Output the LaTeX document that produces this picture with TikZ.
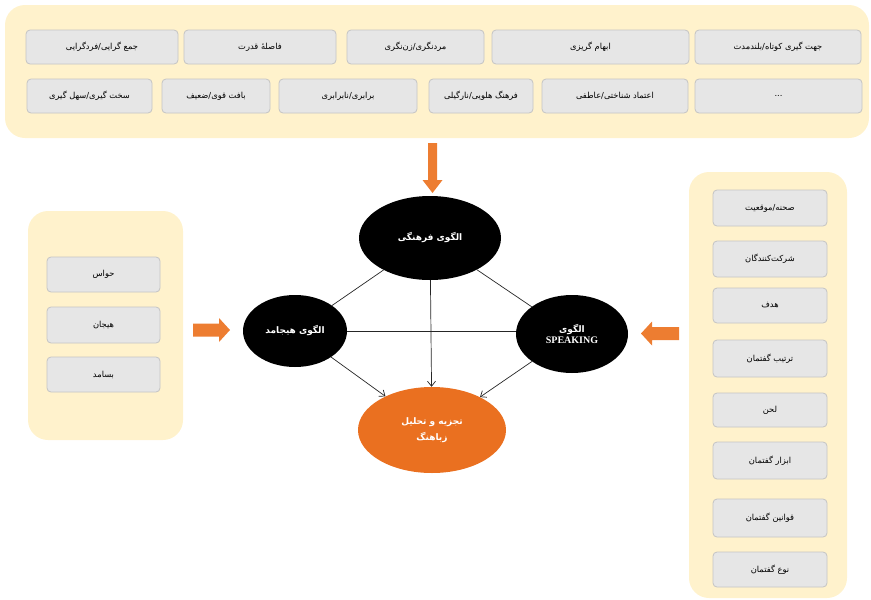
\documentclass[tikz,border=0pt]{standalone}
\usepackage{fontspec}
\setmainfont{DejaVu Sans}
\newfontfamily\fa[Script=Arabic]{DejaVu Sans}
\newfontfamily\latser{Liberation Serif}
\TeXXeTstate=1
\usetikzlibrary{shapes.geometric,arrows.meta}
\definecolor{panelyellow}{HTML}{FFF2CC}
\definecolor{itemgray}{HTML}{E6E6E6}
\definecolor{itemborder}{HTML}{C4C4C4}
\definecolor{arroworange}{HTML}{ED7D31}
\definecolor{ellorange}{HTML}{EA7020}
\definecolor{linegray}{HTML}{262626}
\newcommand\rl[1]{\beginR #1\endR}
\tikzset{
  panel/.style={fill=panelyellow, draw=none, rounded corners=20pt},
  item/.style={draw=itemborder, fill=itemgray, rounded corners=4pt, line width=0.8pt,
    inner sep=0pt, font=\fa\fontsize{8.3}{10}\selectfont, text=black},
  model/.style={ellipse, fill=black, inner sep=0pt, text=white,
    font=\fa\bfseries\fontsize{9}{14}\selectfont, align=center},
  result/.style={ellipse, fill=ellorange, inner sep=0pt, text=white,
    font=\fa\bfseries\fontsize{9}{14}\selectfont, align=center},
  link/.style={draw=linegray, line width=0.7pt},
  flow/.style={link, -{Straight Barb[length=5pt,width=8pt]}},
  bigarrow/.style={fill=arroworange, draw=none}
}
\begin{document}
\begin{tikzpicture}[x=1pt, y=-1pt]
\useasboundingbox (0,0) rectangle (871,600);

% panels
\fill[panel] (5,5) rectangle (869,138);
\fill[panel] (28,211) rectangle (183,440);
\fill[panel] (689,172) rectangle (847,598);

% top row 1
\node[item, minimum width=152pt, minimum height=34pt] (t11) at (102,47) {\rl{جمع گرایی/فردگرایی}};
\node[item, minimum width=152pt, minimum height=34pt] (t12) at (260,47) {\rl{فاصلهٔ قدرت}};
\node[item, minimum width=137pt, minimum height=34pt] (t13) at (415.5,47) {\rl{مردنگری/زن‌نگری}};
\node[item, minimum width=197pt, minimum height=34pt] (t14) at (590.5,47) {\rl{ابهام گریزی}};
\node[item, minimum width=166pt, minimum height=34pt] (t15) at (778,47) {\rl{جهت گیری کوتاه/بلندمدت}};
% top row 2
\node[item, minimum width=125pt, minimum height=34pt] (t21) at (89.5,96) {\rl{سخت گیری/سهل گیری}};
\node[item, minimum width=108pt, minimum height=34pt] (t22) at (216,96) {\rl{بافت قوی/ضعیف}};
\node[item, minimum width=138pt, minimum height=34pt] (t23) at (348,96) {\rl{برابری/نابرابری}};
\node[item, minimum width=104pt, minimum height=34pt] (t24) at (481,96) {\rl{فرهنگ هلویی/نارگیلی}};
\node[item, minimum width=146pt, minimum height=34pt] (t25) at (615,96) {\rl{اعتماد شناختی/عاطفی}};
\node[item, minimum width=167pt, minimum height=34pt] (t26) at (778.5,96) {...};

% left panel
\node[item, minimum width=113pt, minimum height=35pt] (l1) at (103.5,274.5) {\rl{حواس}};
\node[item, minimum width=113pt, minimum height=36pt] (l2) at (103.5,325) {\rl{هیجان}};
\node[item, minimum width=113pt, minimum height=35pt] (l3) at (103.5,374.5) {\rl{بسامد}};

% right panel
\node[item, minimum width=114pt, minimum height=36pt] (r1) at (770,208) {\rl{صحنه/موقعیت}};
\node[item, minimum width=114pt, minimum height=36pt] (r2) at (770,259) {\rl{شرکت‌کنندگان}};
\node[item, minimum width=114pt, minimum height=35pt] (r3) at (770,305.5) {\rl{هدف}};
\node[item, minimum width=114pt, minimum height=37pt] (r4) at (770,358.5) {\rl{ترتیب گفتمان}};
\node[item, minimum width=114pt, minimum height=34pt] (r5) at (770,410) {\rl{لحن}};
\node[item, minimum width=114pt, minimum height=37pt] (r6) at (770,460.5) {\rl{ابزار گفتمان}};
\node[item, minimum width=114pt, minimum height=38pt] (r7) at (770,518) {\rl{قوانین گفتمان}};
\node[item, minimum width=114pt, minimum height=35pt] (r8) at (770,569.5) {\rl{نوع گفتمان}};

% big orange arrows
\fill[bigarrow] (428,143) -- (437,143) -- (437,180) -- (442.5,180) -- (432.5,193) -- (422.5,180) -- (428,180) -- cycle;
\fill[bigarrow] (193,323.5) -- (219,323.5) -- (219,318) -- (230,330) -- (219,342) -- (219,336.5) -- (193,336.5) -- cycle;
\fill[bigarrow] (679,327) -- (652,327) -- (652,321.5) -- (641,333.5) -- (652,345.5) -- (652,340) -- (679,340) -- cycle;

% models
\node[model, minimum width=142pt, minimum height=84pt] (cult) at (430,238) {\rl{الگوی فرهنگی}};
\node[model, minimum width=104pt, minimum height=72pt] (emo) at (295,331) {\raisebox{4pt}{\rl{الگوی هیجامد}}};
\node[model, minimum width=112pt, minimum height=78pt] (speak) at (572,334) {\rl{الگوی}\\[-3pt]{\latser\bfseries\fontsize{10}{12}\selectfont SPEAKING}};
\node[result, minimum width=148pt, minimum height=86pt] (anal) at (432,430) {\rl{تجزیه و تحلیل}\\[2pt]\rl{زباهنگ}};

% connectors
\draw[link] (cult) -- (emo);
\draw[link] (cult) -- (speak);
\draw[link] (emo.east) -- (emo.east -| speak.west);
\draw[flow] (cult) -- (anal);
\draw[flow] (emo) -- (anal);
\draw[flow] (speak) -- (anal);
\end{tikzpicture}
\end{document}
